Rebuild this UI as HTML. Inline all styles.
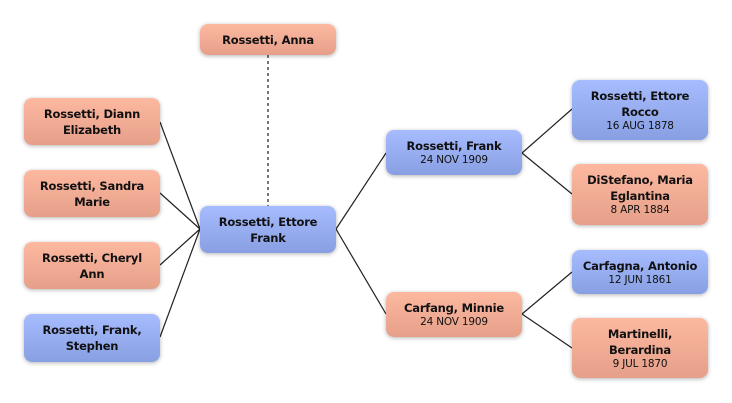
<!DOCTYPE html>
<html><head><meta charset="utf-8"><style>
html,body{margin:0;padding:0;background:#fff;}
body{width:732px;height:403px;position:relative;overflow:hidden;font-family:"DejaVu Sans","Liberation Sans",sans-serif;}
.b{position:absolute;box-sizing:border-box;border-radius:8px;display:flex;flex-direction:column;justify-content:center;align-items:center;text-align:center;color:#111;font-size:11.5px;font-weight:bold;line-height:16px;box-shadow:0 1px 4px rgba(0,0,0,0.3);letter-spacing:-0.2px;}
.p{background:linear-gradient(#fdb8a0,#e6a08a);}
.u{background:linear-gradient(#a6bcfe,#889fe2);}
.d{font-weight:normal;font-size:10.5px;line-height:13px;}
svg{position:absolute;left:0;top:0;}
</style></head><body>
<svg width="732" height="403">
<g stroke="#222" stroke-width="1.2" fill="none">
<line x1="160" y1="122" x2="200" y2="229"/>
<line x1="160" y1="193" x2="200" y2="229"/>
<line x1="160" y1="265" x2="200" y2="229"/>
<line x1="160" y1="337" x2="200" y2="229"/>
<line x1="336" y1="229" x2="386" y2="153"/>
<line x1="336" y1="229" x2="386" y2="314"/>
<line x1="522" y1="153" x2="572" y2="109"/>
<line x1="522" y1="153" x2="572" y2="194"/>
<line x1="522" y1="314" x2="572" y2="272"/>
<line x1="522" y1="314" x2="572" y2="348"/>
</g>
<line x1="268" y1="55" x2="268" y2="206" stroke="#777" stroke-width="2" stroke-dasharray="3,3"/>
</svg>
<div class="b p" style="left:200px;top:24px;width:136px;height:31px;">Rossetti, Anna</div>
<div class="b p" style="left:24px;top:98px;width:136px;height:47px;">Rossetti, Diann<br>Elizabeth</div>
<div class="b p" style="left:24px;top:170px;width:136px;height:47px;">Rossetti, Sandra<br>Marie</div>
<div class="b p" style="left:24px;top:242px;width:136px;height:47px;">Rossetti, Cheryl<br>Ann</div>
<div class="b u" style="left:24px;top:314px;width:136px;height:48px;">Rossetti, Frank,<br>Stephen</div>
<div class="b u" style="left:200px;top:206px;width:136px;height:47px;">Rossetti, Ettore<br>Frank</div>
<div class="b u" style="left:386px;top:130px;width:136px;height:45px;"><div>Rossetti, Frank</div><div class="d">24 NOV 1909</div></div>
<div class="b p" style="left:386px;top:292px;width:136px;height:45px;"><div>Carfang, Minnie</div><div class="d">24 NOV 1909</div></div>
<div class="b u" style="left:572px;top:80px;width:136px;height:60px;"><div>Rossetti, Ettore<br>Rocco</div><div class="d">16 AUG 1878</div></div>
<div class="b p" style="left:572px;top:164px;width:136px;height:61px;"><div>DiStefano, Maria<br>Eglantina</div><div class="d">8 APR 1884</div></div>
<div class="b u" style="left:572px;top:250px;width:136px;height:44px;"><div>Carfagna, Antonio</div><div class="d">12 JUN 1861</div></div>
<div class="b p" style="left:572px;top:318px;width:136px;height:60px;"><div>Martinelli,<br>Berardina</div><div class="d">9 JUL 1870</div></div>
</body></html>
